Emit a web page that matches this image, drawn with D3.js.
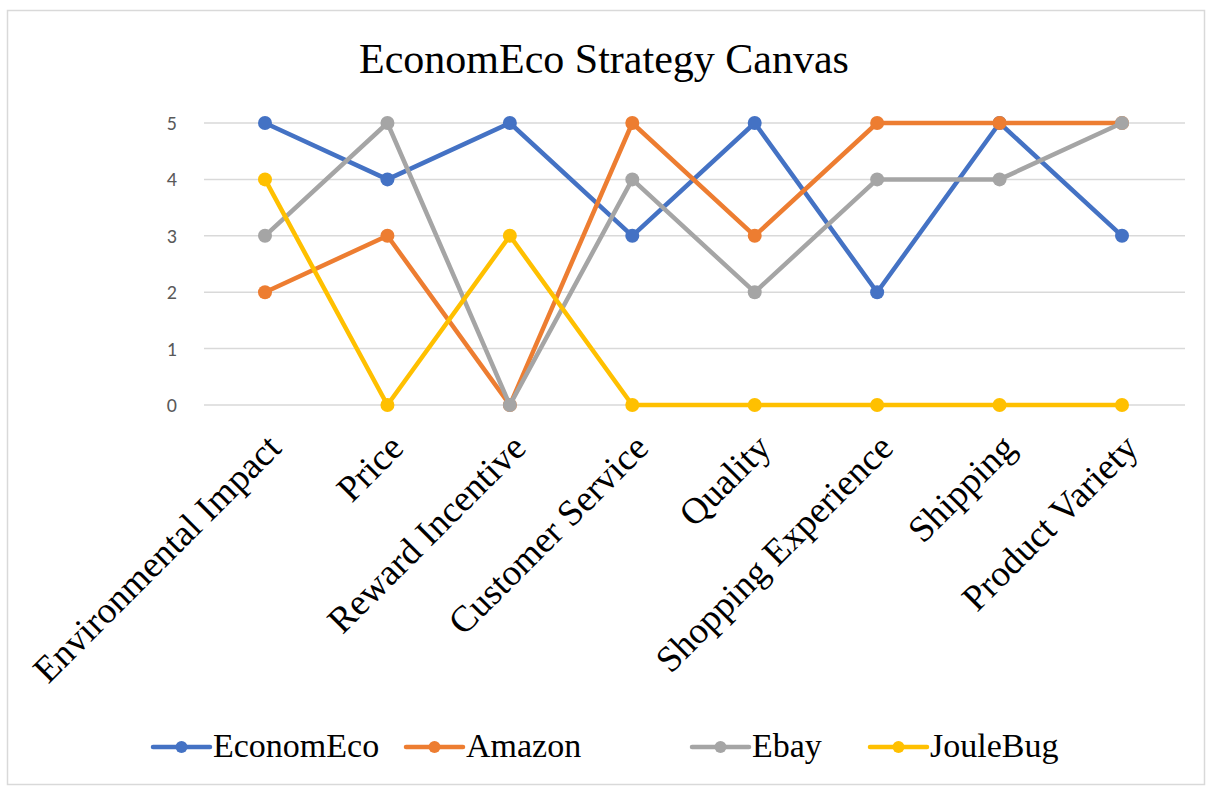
<!DOCTYPE html>
<html lang="en">
  <head>
    <meta charset="UTF-8">
    <title>EconomEco Strategy Canvas</title>
    <style>
      body { margin: 0; background: #fff; }
    </style>
  </head>
  <body>
    <svg id="chart" width="1212" height="791"></svg>
    <script src="https://d3js.org/d3.v7.min.js"></script>
    <script>
      // categorias del lienzo estrategico
      var categorias = ["Environmental Impact", "Price", "Reward Incentive", "Customer Service",
                        "Quality", "Shopping Experience", "Shipping", "Product Variety"];
      var econom = [5, 4, 5, 3, 5, 2, 5, 3];
      var amazon = [2, 3, 0, 5, 3, 5, 5, 5];
      var ebay = [3, 5, 0, 4, 2, 4, 4, 5];
      var joule = [4, 0, 3, 0, 0, 0, 0, 0];
      var ticks = [0, 1, 2, 3, 4, 5];

      var series = [
        {nombre: "EconomEco", valores: econom, color: "#4472C4"},
        {nombre: "Amazon", valores: amazon, color: "#ED7D31"},
        {nombre: "Ebay", valores: ebay, color: "#A5A5A5"},
        {nombre: "JouleBug", valores: joule, color: "#FFC000"}
      ];

      var serif = "'Liberation Serif', 'Times New Roman', serif";
      var svg = d3.select("#chart");

      // marco del grafico
      svg.append("rect")
        .attr("x", 7.5).attr("y", 10.5)
        .attr("width", 1197).attr("height", 774)
        .attr("fill", "#fff").attr("stroke", "#d9d9d9").attr("stroke-width", 1.5);

      svg.append("text")
        .attr("x", 604).attr("y", 73)
        .attr("text-anchor", "middle")
        .style("font-family", serif)
        .style("font-size", "42px")
        .attr("fill", "#000")
        .text("EconomEco Strategy Canvas");

      var x = d3.scalePoint().domain(categorias).range([265, 1122]).padding(0);
      var y = d3.scaleLinear().domain([0, 5]).range([405, 123]);

      // lineas de la cuadricula
      svg.append("g").selectAll("line").data(ticks).join("line")
        .attr("x1", 204).attr("x2", 1185)
        .attr("y1", function(d) { return y(d); })
        .attr("y2", function(d) { return y(d); })
        .attr("stroke", "#d9d9d9").attr("stroke-width", 1.5);

      // etiquetas del eje y
      svg.append("g").selectAll("text").data(ticks).join("text")
        .attr("x", 177)
        .attr("y", function(d) { return y(d); })
        .attr("dy", "0.35em")
        .attr("text-anchor", "end")
        .style("font-family", "Carlito, 'Open Sans', sans-serif")
        .style("font-size", "20px")
        .attr("fill", "#595959")
        .text(function(d) { return d; });

      // etiquetas de categorias rotadas
      svg.append("g").selectAll("text").data(categorias).join("text")
        .attr("transform", function(d) { return "translate(" + (x(d) + 18) + ",450) rotate(-45)"; })
        .attr("text-anchor", "end")
        .style("font-family", serif)
        .style("font-size", "37px")
        .attr("fill", "#000")
        .text(function(d) { return d; });

      var linea = d3.line()
        .x(function(d, i) { return x(categorias[i]); })
        .y(function(d) { return y(d); });

      series.forEach(function(s) {
        var g = svg.append("g");
        g.append("path")
          .attr("d", linea(s.valores))
          .attr("fill", "none")
          .attr("stroke", s.color)
          .attr("stroke-width", 4.5)
          .attr("stroke-linejoin", "round");
        g.selectAll("circle").data(s.valores).join("circle")
          .attr("cx", function(d, i) { return x(categorias[i]); })
          .attr("cy", function(d) { return y(d); })
          .attr("r", 7)
          .attr("fill", s.color);
      });

      // leyenda
      var leyendaX = [153, 406, 692, 870];
      var ley = svg.append("g").selectAll("g").data(series).join("g")
        .attr("transform", function(d, i) { return "translate(" + leyendaX[i] + ",747)"; });
      ley.append("line")
        .attr("x1", 0).attr("x2", 57)
        .attr("stroke", function(d) { return d.color; })
        .attr("stroke-width", 4.5).attr("stroke-linecap", "round");
      ley.append("circle")
        .attr("cx", 28.5).attr("r", 6)
        .attr("fill", function(d) { return d.color; });
      ley.append("text")
        .attr("x", 60).attr("y", 10)
        .style("font-family", serif)
        .style("font-size", "34px")
        .attr("fill", "#000")
        .text(function(d) { return d.nombre; });
    </script>
  </body>
</html>
